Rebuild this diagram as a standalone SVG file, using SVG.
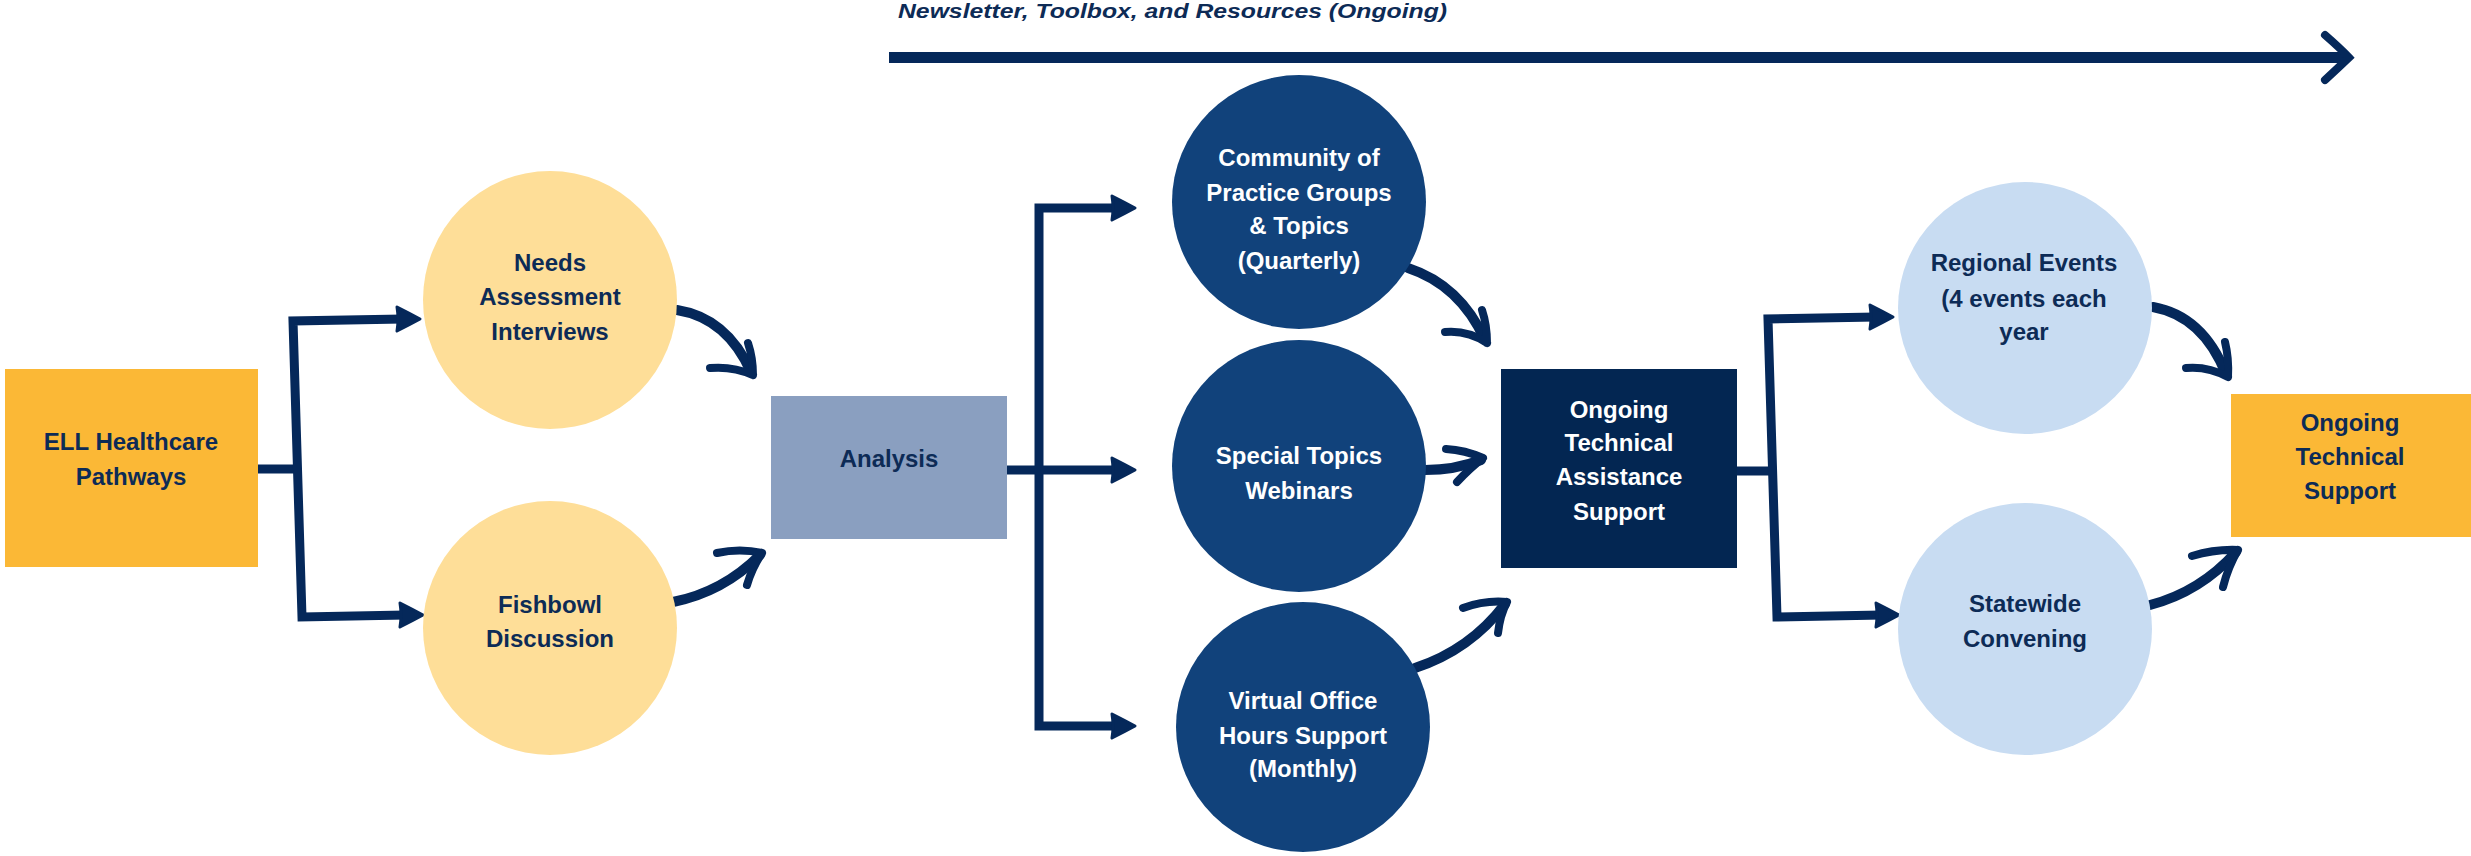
<svg xmlns="http://www.w3.org/2000/svg" width="2471" height="856" viewBox="0 0 2471 856">
  <style>
    .t { font-family: "Liberation Sans", Arial, sans-serif; font-weight: bold; font-size: 24px; text-anchor: middle; }
    .dk { fill: #0D2B56; }
    .wt { fill: #FFFFFF; }
    .title { font-family: "Liberation Sans", Arial, sans-serif; font-weight: bold; font-style: italic; font-size: 20px; fill: #0D2B56; }
    .ln { fill: none; stroke: #05285A; stroke-width: 9; stroke-linejoin: miter; }
    .sw { fill: none; stroke: #05285A; stroke-width: 10; stroke-linecap: round; }
    .arm { fill: none; stroke: #05285A; stroke-width: 8; stroke-linecap: round; }
    .hd { fill: #05285A; stroke: #05285A; stroke-width: 3; stroke-linejoin: round; }
    .orange { fill: #FBB836; }
    .peach { fill: #FEDE98; }
    .slate { fill: #8A9FC0; }
    .navyc { fill: #11427B; }
    .navyb { fill: #032652; }
    .sky { fill: #C8DCF2; }
  </style>
  <defs>
    <!-- filled head for the bracket branches, tip at (0,0) -->
    <path id="head" d="M-23,-12 Q-11,-6 0,0 Q-11,6 -23,12 Q-21,0 -23,-12 Z"/>
  </defs>

  <rect width="2471" height="856" fill="#FFFFFF"/>

  <!-- ongoing timeline across the top -->
  <g id="timeline">
    <text class="title" x="898" y="18" textLength="549" lengthAdjust="spacingAndGlyphs">Newsletter, Toolbox, and Resources (Ongoing)</text>
    <path d="M889,57.5 L2344,57.5" fill="none" stroke="#05285A" stroke-width="11"/>
    <path d="M2325,35 Q2340,48 2349,57.5 Q2338,68 2325,80" class="arm"/>
  </g>

  <g id="connectors">
    <!-- ELL split -->
    <path class="ln" d="M258,469 L297,469"/>
    <path class="ln" d="M403,319 L293,321 L302,617 L406,615"/>
    <use href="#head" class="hd" transform="translate(420,319)"/>
    <use href="#head" class="hd" transform="translate(423,615)"/>

    <!-- into Analysis -->
    <path class="sw" d="M677,310 Q727,318 751,372"/>
    <path class="arm" d="M710,368 Q733,366 753,375 M748,343 Q753,358 753,375"/>
    <path class="sw" d="M673,602 Q723,592 760,555"/>
    <path class="arm" d="M717,553 Q740,548 762,553 M747,585 Q752,568 762,553"/>

    <!-- Analysis split -->
    <path class="ln" d="M1007,470 L1039,470"/>
    <path class="ln" d="M1118,208 L1039,208 L1039,726 L1118,726"/>
    <path class="ln" d="M1039,470 L1118,470"/>
    <use href="#head" class="hd" transform="translate(1135,208)"/>
    <use href="#head" class="hd" transform="translate(1135,470)"/>
    <use href="#head" class="hd" transform="translate(1135,726)"/>

    <!-- into Ongoing Technical Assistance Support -->
    <path class="sw" d="M1408,268 Q1460,285 1485,340"/>
    <path class="arm" d="M1445,332 Q1468,330 1487,343 M1482,310 Q1487,325 1487,343"/>
    <path class="sw" d="M1425,470 Q1455,470 1481,460"/>
    <path class="arm" d="M1446,449 Q1465,450 1483,458 M1457,482 Q1470,468 1483,458"/>
    <path class="sw" d="M1415,668 Q1470,650 1505,604"/>
    <path class="arm" d="M1463,608 Q1485,600 1507,602 M1498,633 Q1500,615 1507,602"/>

    <!-- OTAS split -->
    <path class="ln" d="M1737,471 L1772,471"/>
    <path class="ln" d="M1876,317 L1768,319 L1777,617 L1882,615"/>
    <use href="#head" class="hd" transform="translate(1893,317)"/>
    <use href="#head" class="hd" transform="translate(1899,615)"/>

    <!-- into Ongoing Technical Support -->
    <path class="sw" d="M2153,307 Q2203,316 2226,374"/>
    <path class="arm" d="M2186,368 Q2208,366 2228,377 M2225,342 Q2229,358 2228,377"/>
    <path class="sw" d="M2150,605 Q2200,592 2236,552"/>
    <path class="arm" d="M2192,556 Q2215,549 2238,550 M2223,587 Q2228,567 2238,550"/>
  </g>

  <g id="ell">
    <rect class="orange" x="5" y="369" width="253" height="198"/>
    <text class="t dk" x="131" y="450">ELL Healthcare</text>
    <text class="t dk" x="131" y="485">Pathways</text>
  </g>

  <g id="needs">
    <ellipse class="peach" cx="550" cy="300" rx="127" ry="129"/>
    <text class="t dk" x="550" y="271">Needs</text>
    <text class="t dk" x="550" y="305">Assessment</text>
    <text class="t dk" x="550" y="340">Interviews</text>
  </g>

  <g id="fishbowl">
    <ellipse class="peach" cx="550" cy="628" rx="127" ry="127"/>
    <text class="t dk" x="550" y="613">Fishbowl</text>
    <text class="t dk" x="550" y="647">Discussion</text>
  </g>

  <g id="analysis">
    <rect class="slate" x="771" y="396" width="236" height="143"/>
    <text class="t dk" x="889" y="467">Analysis</text>
  </g>

  <g id="community">
    <ellipse class="navyc" cx="1299" cy="202" rx="127" ry="127"/>
    <text class="t wt" x="1299" y="166">Community of</text>
    <text class="t wt" x="1299" y="201">Practice Groups</text>
    <text class="t wt" x="1299" y="234">&amp; Topics</text>
    <text class="t wt" x="1299" y="269">(Quarterly)</text>
  </g>

  <g id="special">
    <ellipse class="navyc" cx="1299" cy="466" rx="127" ry="126"/>
    <text class="t wt" x="1299" y="464">Special Topics</text>
    <text class="t wt" x="1299" y="499">Webinars</text>
  </g>

  <g id="virtual">
    <ellipse class="navyc" cx="1303" cy="727" rx="127" ry="125"/>
    <text class="t wt" x="1303" y="709">Virtual Office</text>
    <text class="t wt" x="1303" y="744">Hours Support</text>
    <text class="t wt" x="1303" y="777">(Monthly)</text>
  </g>

  <g id="otas">
    <rect class="navyb" x="1501" y="369" width="236" height="199"/>
    <text class="t wt" x="1619" y="418">Ongoing</text>
    <text class="t wt" x="1619" y="451">Technical</text>
    <text class="t wt" x="1619" y="485">Assistance</text>
    <text class="t wt" x="1619" y="520">Support</text>
  </g>

  <g id="regional">
    <ellipse class="sky" cx="2025" cy="308" rx="127" ry="126"/>
    <text class="t dk" x="2024" y="271">Regional Events</text>
    <text class="t dk" x="2024" y="307">(4 events each</text>
    <text class="t dk" x="2024" y="340">year</text>
  </g>

  <g id="statewide">
    <ellipse class="sky" cx="2025" cy="629" rx="127" ry="126"/>
    <text class="t dk" x="2025" y="612">Statewide</text>
    <text class="t dk" x="2025" y="647">Convening</text>
  </g>

  <g id="final">
    <rect class="orange" x="2231" y="394" width="240" height="143"/>
    <text class="t dk" x="2350" y="431">Ongoing</text>
    <text class="t dk" x="2350" y="465">Technical</text>
    <text class="t dk" x="2350" y="499">Support</text>
  </g>
</svg>
